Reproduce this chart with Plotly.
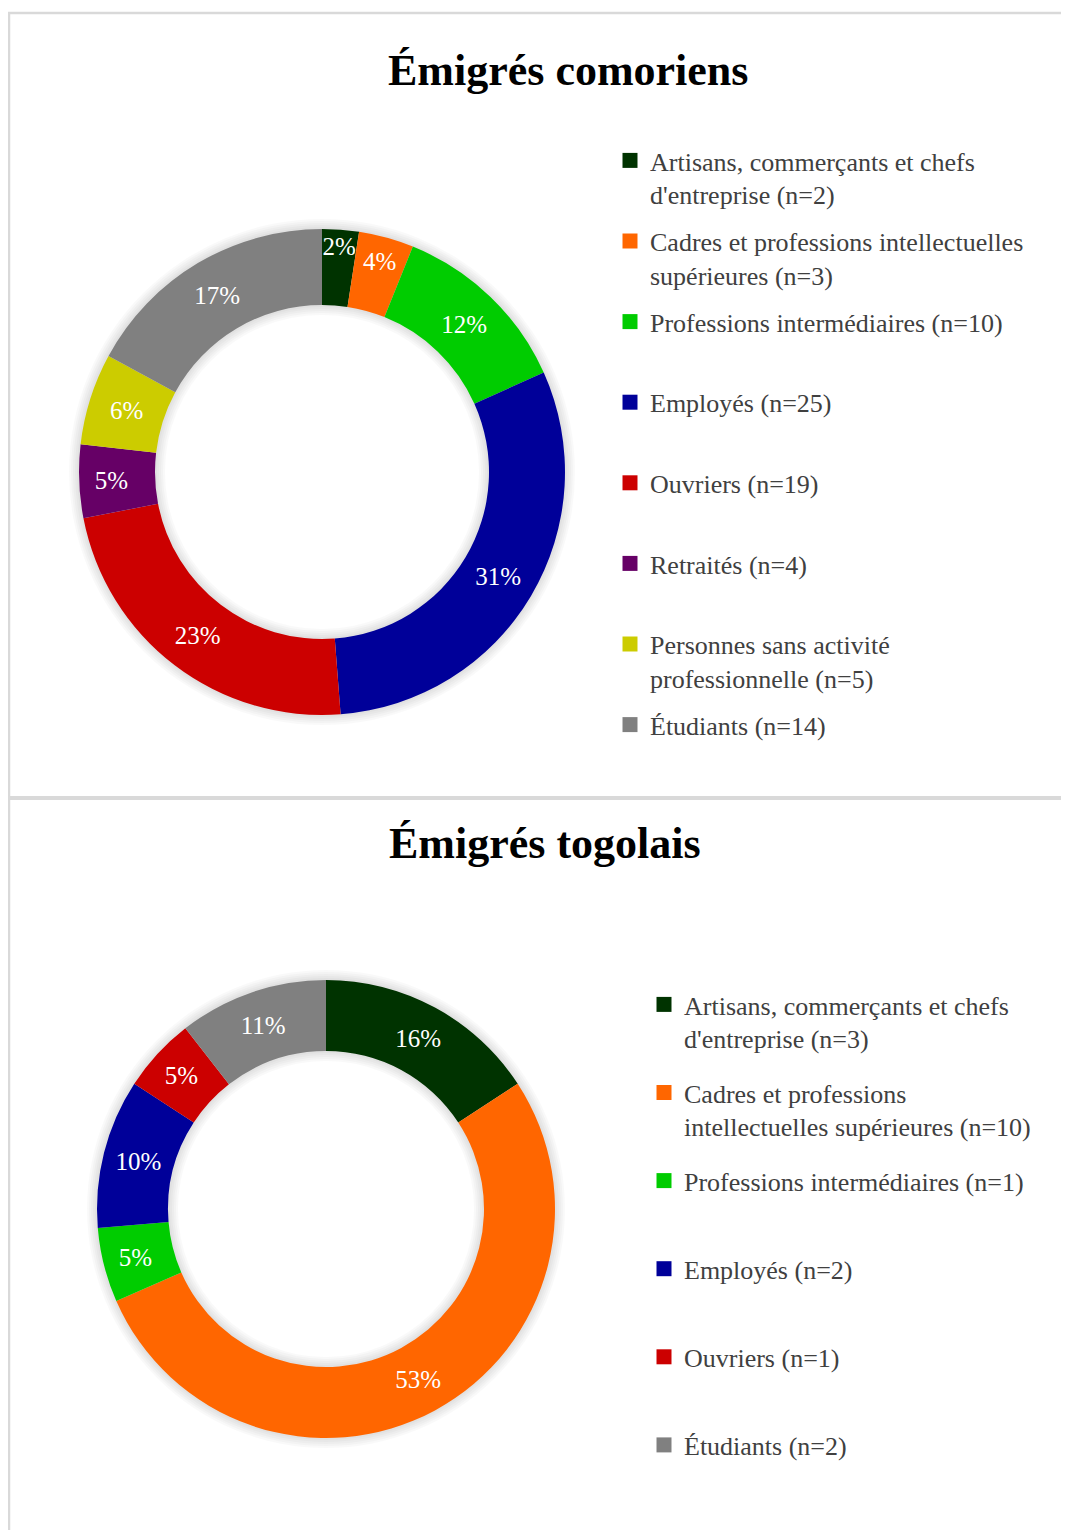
import plotly.graph_objects as go

# ---------------- data ----------------
title_com = "Émigrés comoriens"
legend_com = [
    "Artisans, commerçants et chefs<br>d'entreprise (n=2)",
    "Cadres et professions intellectuelles<br>supérieures (n=3)",
    "Professions intermédiaires (n=10)",
    "Employés (n=25)",
    "Ouvriers (n=19)",
    "Retraités (n=4)",
    "Personnes sans activité<br>professionnelle (n=5)",
    "Étudiants (n=14)",
]
values_com = [2, 3, 10, 25, 19, 4, 5, 14]
pct_com = ["2%", "4%", "12%", "31%", "23%", "5%", "6%", "17%"]
colors_com = ["#003300", "#FF6600", "#00CC00", "#000099",
              "#CC0000", "#660066", "#CCCC00", "#808080"]

title_tog = "Émigrés togolais"
legend_tog = [
    "Artisans, commerçants et chefs<br>d'entreprise (n=3)",
    "Cadres et professions<br>intellectuelles supérieures (n=10)",
    "Professions intermédiaires (n=1)",
    "Employés (n=2)",
    "Ouvriers (n=1)",
    "Étudiants (n=2)",
]
values_tog = [3, 10, 1, 2, 1, 2]
pct_tog = ["16%", "53%", "5%", "10%", "5%", "11%"]
colors_tog = ["#003300", "#FF6600", "#00CC00", "#000099", "#CC0000", "#808080"]

W, H = 1069, 1530
OFF = 8  # page body margin compensation
SERIF = "Liberation Serif, Times New Roman, serif"

fig = go.Figure()


def dom_c(cx, cy, r):
    cx -= OFF
    cy -= OFF
    return dict(x=[(cx - r) / W, (cx + r) / W], y=[1 - (cy + r) / H, 1 - (cy - r) / H])


def add_donut(values, pct, colors, cx, cy, r, r_in):
    # soft shadow rings (decoration)
    for k in [2, 4, 6, 8, 10]:
        fig.add_trace(go.Pie(
            values=[1], textinfo="none", hoverinfo="skip", showlegend=False,
            marker=dict(colors=["rgba(0,0,0,0.025)"], line=dict(width=0)),
            hole=(r_in - k) / (r + k), sort=False, domain=dom_c(cx, cy, r + k),
        ))
    fig.add_trace(go.Pie(
        values=values, text=pct, textinfo="text", textposition="inside",
        insidetextorientation="horizontal",
        textfont=dict(family=SERIF, size=25, color="white"),
        marker=dict(colors=colors, line=dict(width=0)),
        hole=r_in / r, sort=False, direction="clockwise", rotation=0,
        showlegend=False, hoverinfo="skip", domain=dom_c(cx, cy, r),
    ))


add_donut(values_com, pct_com, colors_com, 322, 472, 243, 167)
add_donut(values_tog, pct_tog, colors_tog, 326, 1209, 229, 158)


def add_legend(labels, colors, legend_id, prefix):
    for i, (lab, col) in enumerate(zip(labels, colors)):
        if "<br>" not in lab:
            lab = lab + "<br> "
        fig.add_trace(go.Scatter(
            x=[None], y=[None], mode="markers", name=lab,
            marker=dict(symbol="square", size=15, color=col),
            legend=legend_id, legendgroup=f"{prefix}{i}", showlegend=True,
            hoverinfo="skip",
        ))


add_legend(legend_com, colors_com, "legend", "c")
add_legend(legend_tog, colors_tog, "legend2", "t")

leg_font = dict(family=SERIF, size=26, color="#404040")

fig.update_layout(
    width=W, height=H,
    margin=dict(l=0, r=0, t=0, b=0),
    paper_bgcolor="white", plot_bgcolor="white",
    xaxis=dict(visible=False, range=[0, W], domain=[0, 1], fixedrange=True),
    yaxis=dict(visible=False, range=[H, 0], domain=[0, 1], fixedrange=True),
    uniformtext=dict(mode="show", minsize=25),
    legend=dict(x=602 / W, y=1 - 129 / H, xanchor="left", yanchor="top",
                font=leg_font, valign="top", tracegroupgap=10,
                bgcolor="rgba(0,0,0,0)", itemclick=False),
    legend2=dict(x=636 / W, y=1 - 973 / H, xanchor="left", yanchor="top",
                 font=leg_font, valign="top", tracegroupgap=17.5,
                 bgcolor="rgba(0,0,0,0)", itemclick=False),
    annotations=[
        dict(text="<b>" + title_com + "</b>", x=560, y=62, xref="x", yref="y",
             showarrow=False, font=dict(family=SERIF, size=44, color="black"),
             xanchor="center", yanchor="middle"),
        dict(text="<b>" + title_tog + "</b>", x=537, y=835, xref="x", yref="y",
             showarrow=False, font=dict(family=SERIF, size=44, color="black"),
             xanchor="center", yanchor="middle"),
    ],
    shapes=[
        dict(type="line", xref="x", yref="y", x0=0, x1=W, y0=5, y1=5,
             line=dict(color="#d9d9d9", width=2.5)),
        dict(type="line", xref="x", yref="y", x0=1, x1=1, y0=4, y1=H,
             line=dict(color="#d9d9d9", width=2.5)),
        dict(type="line", xref="x", yref="y", x0=0, x1=W, y0=790, y1=790,
             line=dict(color="#d9d9d9", width=4)),
    ],
)

fig.write_html("out.html")
